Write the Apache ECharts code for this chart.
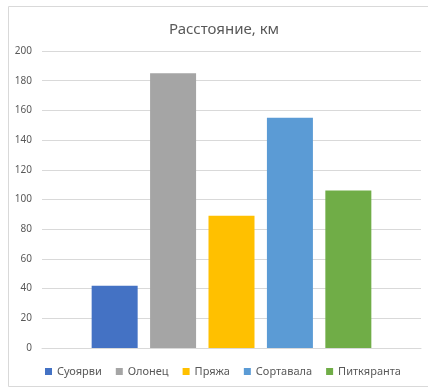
<!DOCTYPE html>
<html><head><meta charset="utf-8">
<script src="https://cdn.jsdelivr.net/npm/echarts@6/dist/echarts.min.js"></script>
<style>html,body{margin:0;padding:0;background:#fff}#c{width:428px;height:389px}</style>
</head><body><div id="c"></div>
<script>
const names = ['Суоярви','Олонец','Пряжа','Сортавала','Питкяранта'];
const values = [42, 185, 89, 155, 106];
const colors = ['#4472c4','#a5a5a5','#ffc000','#5b9bd5','#70ad47'];
const category = ['Расстояние, км'];
const font = '"Noto Sans", "DejaVu Sans", sans-serif';
const chart = echarts.init(document.getElementById('c'));
chart.setOption({
  animation: false,
  textStyle: {fontFamily: font},
  title: {text: 'Расстояние, км', left: 164, top: 17,
    textStyle: {fontFamily: font, fontSize: 15, fontWeight: 'normal', color: '#595959'}},
  graphic: [{type: 'rect', shape: {x: 8.5, y: 6.5, width: 425, height: 380},
    style: {fill: 'none', stroke: '#d9d9d9', lineWidth: 1}, silent: true}],
  legend: {bottom: 7, left: 40, itemWidth: 7, itemHeight: 7, itemGap: 14,
    icon: 'rect', textStyle: {fontFamily: font, fontSize: 11, color: '#595959'},
    data: names},
  grid: {left: 42, right: 7, top: 51, bottom: 41},
  xAxis: {type: 'category', data: category, axisLabel: {show: false},
    axisTick: {show: false}, axisLine: {lineStyle: {color: '#d9d9d9'}}},
  yAxis: {type: 'value', min: 0, max: 200, interval: 20,
    axisLine: {show: false}, axisTick: {show: false},
    axisLabel: {fontSize: 10, color: '#595959', margin: 10, fontFamily: font},
    splitLine: {lineStyle: {color: '#d9d9d9'}}},
  series: names.map((n, i) => ({
    name: n, type: 'bar', data: [values[i]], barWidth: 46, barGap: '27%',
    itemStyle: {color: colors[i]}
  }))
});
</script></body></html>
